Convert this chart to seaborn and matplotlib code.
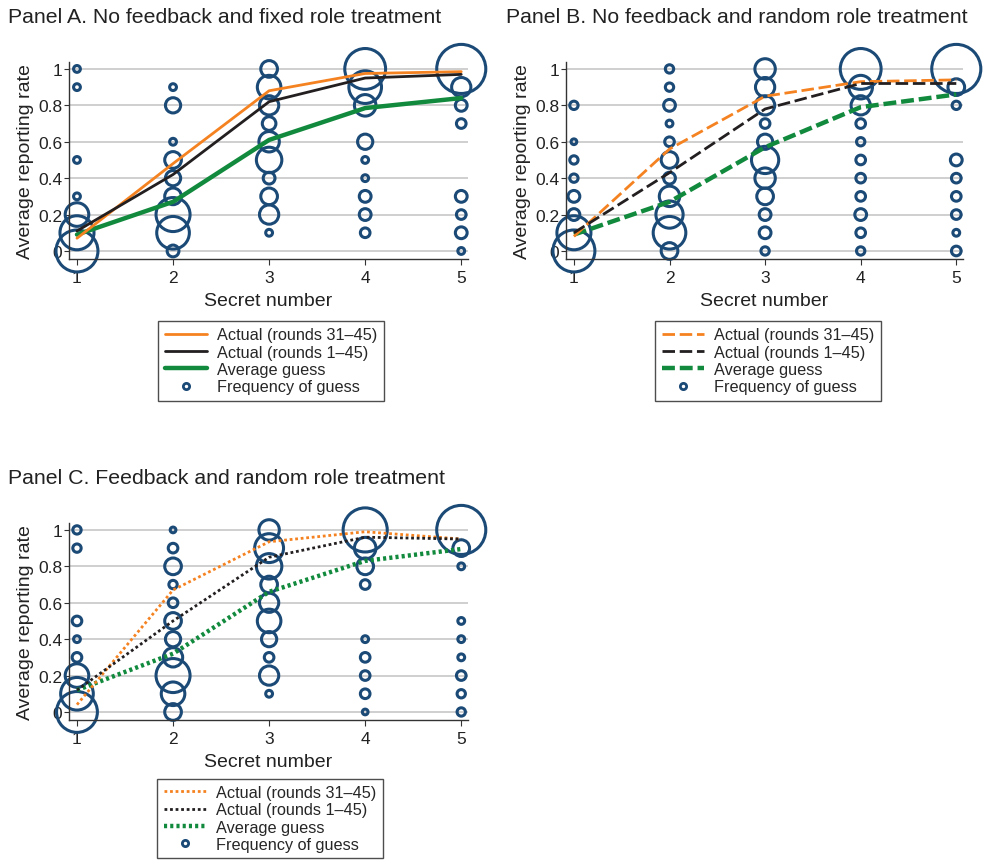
import numpy as np
import pandas as pd
import matplotlib.pyplot as plt
from matplotlib.lines import Line2D
import seaborn as sns

secret = [1, 2, 3, 4, 5]
guess_levels = [0.0, 0.1, 0.2, 0.3, 0.4, 0.5, 0.6, 0.7, 0.8, 0.9, 1.0]

# frequency of each guess (rows = secret number, cols = guess level 0..1)
freq_a = [
    [38, 25, 12, 1, 0, 1, 0, 0, 0, 1, 1],
    [3, 23, 25, 6, 5, 6, 1, 0, 5, 1, 0],
    [0, 1, 8, 6, 3, 14, 9, 4, 8, 12, 6],
    [0, 2, 3, 3, 1, 1, 5, 0, 10, 23, 36],
    [1, 3, 2, 3, 0, 0, 0, 2, 3, 8, 52],
]
freq_b = [
    [38, 25, 3, 3, 1.5, 1.5, 0.7, 0, 1.5, 0, 0],
    [6, 23, 16, 9, 3, 6, 2, 1, 3, 1.5, 1.5],
    [1.5, 3, 3, 6, 9, 16, 5, 2, 8, 8, 9],
    [1.5, 2, 3, 2, 2, 2, 1.5, 2, 8, 12, 36],
    [2, 1, 2, 2, 2, 3, 0, 0, 1.5, 6, 52],
]
freq_c = [
    [36, 23, 12, 2, 1, 2, 0, 0, 0, 1.5, 1.5],
    [6, 12, 25, 8, 5, 6, 2, 1.5, 6, 2, 0.7],
    [0, 1, 8, 2, 5, 12, 8, 6, 14, 18, 9],
    [0.7, 2, 2, 2, 1, 0, 0, 2, 6, 10, 42],
    [1.5, 1.5, 2, 1, 1, 1, 0, 0, 1, 6, 52],
]

actual_late_a = [0.07, 0.48, 0.88, 0.975, 0.985]
actual_all_a = [0.11, 0.42, 0.82, 0.95, 0.97]
avg_guess_a = [0.09, 0.27, 0.61, 0.785, 0.84]

actual_late_b = [0.08, 0.56, 0.85, 0.93, 0.94]
actual_all_b = [0.10, 0.43, 0.78, 0.92, 0.92]
avg_guess_b = [0.09, 0.27, 0.57, 0.79, 0.86]

actual_late_c = [0.04, 0.67, 0.935, 0.99, 0.95]
actual_all_c = [0.12, 0.50, 0.85, 0.96, 0.95]
avg_guess_c = [0.12, 0.32, 0.66, 0.83, 0.895]

titles = ["Panel A. No feedback and fixed role treatment",
          "Panel B. No feedback and random role treatment",
          "Panel C. Feedback and random role treatment"]
legend_labels = ["Actual (rounds 31\u201345)", "Actual (rounds 1\u201345)",
                 "Average guess", "Frequency of guess"]

BLUE = "#1b4a77"
ORANGE = "#f58220"
BLACK = "#231f20"
GREEN = "#128a3d"

sns.set_style("white")
plt.rcParams['font.family'] = ['Liberation Sans', 'DejaVu Sans']

fig = plt.figure(figsize=(9.9, 8.62), dpi=100)
positions = [
    [0.0697, 0.6984, 0.403, 0.2285],
    [0.5717, 0.6984, 0.401, 0.2285],
    [0.0697, 0.1636, 0.403, 0.2285],
]
LW_THIN = 2.0
LW_THICK = 3.2
# line styles per panel: (thin lines, thick line)
styles = [
    ("-", "-"),
    ((0, (4.5, 1.7)), (0, (2.9, 1.1))),
    ((0, (1, 1)), (0, (0.7, 0.7))),
]
panels = [
    (freq_a, actual_late_a, actual_all_a, avg_guess_a),
    (freq_b, actual_late_b, actual_all_b, avg_guess_b),
    (freq_c, actual_late_c, actual_all_c, avg_guess_c),
]
legend_pos = [(0.16, 0.534), (0.662, 0.534), (0.159, 0.003)]

for i, (freq, late, allr, guess) in enumerate(panels):
    ls_thin, ls_thick = styles[i]
    ax = fig.add_axes(positions[i])
    rows = []
    for xi, s in enumerate(secret):
        for yi, g in enumerate(guess_levels):
            if freq[xi][yi] > 0:
                rows.append({"secret": s, "guess": g, "freq": freq[xi][yi]})
    bub = pd.DataFrame(rows)

    for y in [0, 0.2, 0.4, 0.6, 0.8, 1.0]:
        ax.axhline(y, color="#cccccc", lw=1.3, zorder=0)

    sns.scatterplot(data=bub, x="secret", y="guess", size="freq",
                    sizes=(0, 24 * 60), size_norm=(0, 60),
                    facecolors="none", edgecolor=BLUE, linewidth=2.2,
                    legend=False, ax=ax, zorder=2)
    for coll in ax.collections:
        coll.set_clip_on(False)
        coll.set_facecolor("none")
        coll.set_edgecolor(BLUE)

    sns.lineplot(x=secret, y=late, color=ORANGE, lw=LW_THIN, ls=ls_thin, ax=ax, zorder=4)
    sns.lineplot(x=secret, y=allr, color=BLACK, lw=LW_THIN, ls=ls_thin, ax=ax, zorder=4)
    sns.lineplot(x=secret, y=guess, color=GREEN, lw=LW_THICK, ls=ls_thick, ax=ax, zorder=3)

    ax.set_xlim(0.917, 5.07)
    ax.set_ylim(-0.044, 1.038)
    ax.set_xticks(secret)
    ax.set_yticks([0, 0.2, 0.4, 0.6, 0.8, 1.0])
    ax.set_yticklabels(["0", "0.2", "0.4", "0.6", "0.8", "1"])
    sns.despine(ax=ax)
    for sp in ["left", "bottom"]:
        ax.spines[sp].set_color("#333333")
        ax.spines[sp].set_linewidth(1.0)
    ax.tick_params(axis="x", bottom=True, length=4, color="#333333",
                   labelsize=12.5, pad=4, labelcolor="#222222")
    ax.tick_params(axis="y", left=True, length=3.5, color="#333333",
                   labelsize=12.5, pad=1.5, labelcolor="#222222")
    ax.set_xlabel("Secret number", fontsize=14, labelpad=5, color="#222222")
    ax.set_ylabel("Average reporting rate", fontsize=14, labelpad=3, color="#222222")
    ax.text(-0.152, 1.232, titles[i], transform=ax.transAxes,
            fontsize=15.3, color="#222222", va="center", ha="left")

    handles = [
        Line2D([0], [0], color=ORANGE, lw=LW_THIN, ls=ls_thin),
        Line2D([0], [0], color=BLACK, lw=LW_THIN, ls=ls_thin),
        Line2D([0], [0], color=GREEN, lw=LW_THICK, ls=ls_thick),
        Line2D([0], [0], color=BLUE, marker="o", ls="none", markersize=4.5,
               markerfacecolor="none", markeredgewidth=2),
    ]
    leg = fig.legend(handles, legend_labels, loc="lower left",
                     bbox_to_anchor=legend_pos[i], fontsize=11.7, frameon=True,
                     fancybox=False, edgecolor="#222222", handlelength=2.6,
                     handletextpad=0.6, labelspacing=0.14, borderpad=0.4,
                     borderaxespad=0)
    leg.get_frame().set_linewidth(1.0)

fig.savefig("out.png", dpi=100)
